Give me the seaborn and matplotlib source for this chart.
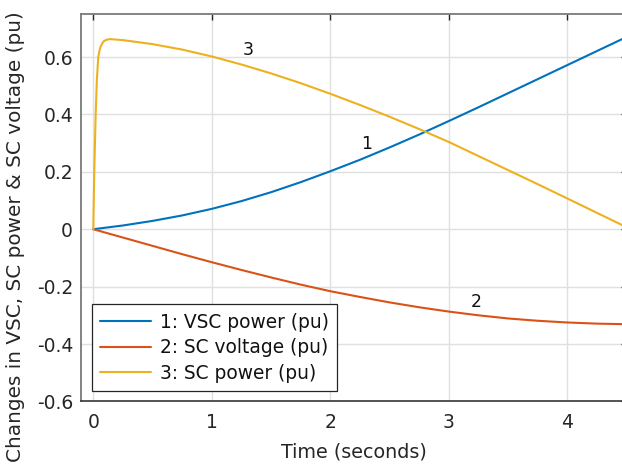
import numpy as np
import pandas as pd
import matplotlib
matplotlib.use("Agg")
import matplotlib.pyplot as plt
import seaborn as sns

# Time samples (s) and responses (pu)
t_vsc = [0, 0.25, 0.5, 0.75, 1.0, 1.25, 1.5, 1.75, 2.0, 2.25, 2.5, 2.75,
         3.0, 3.25, 3.5, 3.75, 4.0, 4.25, 4.5]
vsc_power = [0, 0.013, 0.029, 0.048, 0.071, 0.098, 0.129, 0.164, 0.202,
             0.242, 0.285, 0.330, 0.377, 0.425, 0.474, 0.523, 0.572, 0.621, 0.670]

t_scv = t_vsc
sc_voltage = [0, -0.029, -0.058, -0.087, -0.115, -0.142, -0.168, -0.193, -0.216,
              -0.236, -0.255, -0.272, -0.287, -0.300, -0.311, -0.319, -0.325,
              -0.329, -0.331]

t_scp = [0, 0.008, 0.02, 0.03, 0.042, 0.052, 0.062, 0.085, 0.11, 0.14,
         0.25, 0.5, 0.75, 1.0, 1.25, 1.5, 1.75, 2.0, 2.25, 2.5, 2.75, 3.0,
         3.25, 3.5, 3.75, 4.0, 4.25, 4.5]
sc_power = [0, 0.20, 0.40, 0.52, 0.60, 0.622, 0.637, 0.654, 0.660, 0.6626,
            0.659, 0.645, 0.626, 0.602, 0.574, 0.543, 0.509, 0.472, 0.433,
            0.392, 0.349, 0.304, 0.255, 0.206, 0.157, 0.107, 0.057, 0.007]

series_labels = ["1: VSC power (pu)", "2: SC voltage (pu)", "3: SC power (pu)"]
series_colors = ["#0072BD", "#D95319", "#EDB120"]
curve_tags = ["1", "2", "3"]
tag_x = [2.307, 3.235, 1.308]
tag_y = [0.297, -0.2525, 0.625]

x_ticks = [0, 1, 2, 3, 4]
x_tick_labels = ["0", "1", "2", "3", "4"]
y_ticks = [-0.6, -0.4, -0.2, 0, 0.2, 0.4, 0.6]
y_tick_labels = ["-0.6", "-0.4", "-0.2", "0", "0.2", "0.4", "0.6"]

sns.set_theme(style="white")
plt.rcParams["font.family"] = ["DejaVu Sans"]

W, H = 622, 465
fig = plt.figure(figsize=(W / 100, H / 100), dpi=100)
ax_l, ax_r, ax_t, ax_b = 81.45, 626.6, 14.0, 401.4
ax = fig.add_axes([ax_l / W, 1 - ax_b / H, (ax_r - ax_l) / W, (ax_b - ax_t) / H])

frames = [
    pd.DataFrame({"t": t_vsc, "v": vsc_power}),
    pd.DataFrame({"t": t_scv, "v": sc_voltage}),
    pd.DataFrame({"t": t_scp, "v": sc_power}),
]
for df, lab, col in zip(frames, series_labels, series_colors):
    sns.lineplot(data=df, x="t", y="v", ax=ax, color=col, linewidth=1.5,
                 label=lab, estimator=None, sort=False)

for tag, x, y in zip(curve_tags, tag_x, tag_y):
    ax.text(x, y, tag, fontsize=12.5, color="#111111", ha="center", va="center")

ax.set_xlim(-0.1, 4.5)
ax.set_ylim(-0.6, 0.75)
ax.set_xticks(x_ticks)
ax.set_xticklabels(x_tick_labels)
ax.set_yticks(y_ticks)
ax.set_yticklabels(y_tick_labels)

ax.grid(True, color="#e0e0e0", linewidth=1.0)
ax.set_axisbelow(True)

for side in ["top", "right", "left"]:
    ax.spines[side].set_color("#7a7a7a")
    ax.spines[side].set_linewidth(1.3)
ax.spines["bottom"].set_color("#262626")
ax.spines["bottom"].set_linewidth(1.1)

ax.tick_params(axis="both", direction="in", length=4, width=1.0,
               color="#262626", labelsize=13.5, labelcolor="#262626",
               top=True, right=True)
ax.tick_params(axis="x", pad=8)
ax.tick_params(axis="y", pad=6)

ax.set_xlabel("Time (seconds)", fontsize=13.8, color="#262626")
ax.set_ylabel("Changes in VSC, SC power & SC voltage (pu)", fontsize=14.4,
              color="#262626")
ax.xaxis.set_label_coords(0.5, -0.105)
ax.yaxis.set_label_coords(-0.104, 0.425)

leg = ax.legend(loc="lower left", bbox_to_anchor=(0.0194, 0.027),
                borderaxespad=0, fontsize=13.4, frameon=True, fancybox=False,
                shadow=False, framealpha=1.0, edgecolor="#262626",
                handlelength=2.7, handletextpad=0.5, labelspacing=0.35,
                borderpad=0.45)
leg.get_frame().set_linewidth(0.9)
for txt in leg.get_texts():
    txt.set_color("#111111")

fig.savefig("out.png", dpi=100)
